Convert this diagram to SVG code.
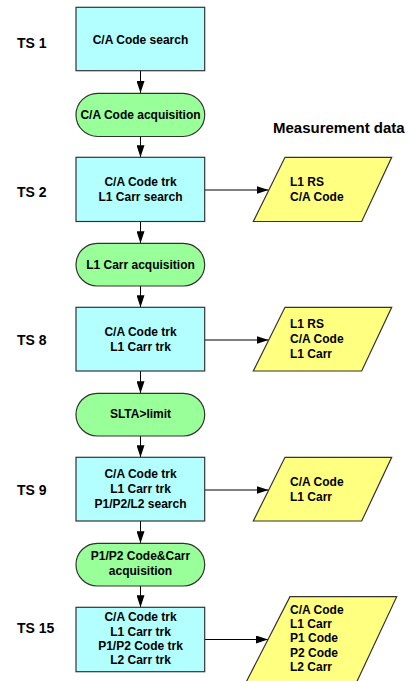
<svg xmlns="http://www.w3.org/2000/svg" width="407" height="681" viewBox="0 0 407 681">
<style>
text{font-family:"Liberation Sans",Arial,sans-serif;font-weight:bold;fill:#000}
.t{font-size:12px;text-anchor:middle}
.d{font-size:12px}
.ts{font-size:14px}
.box{fill:#b3ffff;stroke:#333;stroke-width:1.2}
.pill{fill:#99ff99;stroke:#333;stroke-width:1.2}
.data{fill:#ffff80;stroke:#333;stroke-width:1.2}
.c{stroke:#000;stroke-width:1;fill:none;marker-end:url(#ah)}
</style>
<defs>
<marker id="ah" markerUnits="userSpaceOnUse" markerWidth="12" markerHeight="8" refX="12" refY="4" orient="auto">
<path d="M0,0 L12,4 L0,8 z" fill="#000"/>
</marker>
</defs>
<rect width="407" height="681" fill="#fff"/>
<g id="labels">
<text class="ts" x="17" y="48">TS 1</text>
<text class="ts" x="17" y="197">TS 2</text>
<text class="ts" x="17" y="345">TS 8</text>
<text class="ts" x="17" y="495">TS 9</text>
<text class="ts" x="17" y="633">TS 15</text>
<text x="273" y="133" font-size="15">Measurement data</text>
</g>
<g id="connectors">
<line class="c" x1="140.5" y1="71" x2="140.5" y2="93"/>
<line class="c" x1="140.5" y1="136.5" x2="140.5" y2="157.3"/>
<line class="c" x1="140.5" y1="221.5" x2="140.5" y2="243.3"/>
<line class="c" x1="140.5" y1="286" x2="140.5" y2="307.3"/>
<line class="c" x1="140.5" y1="371" x2="140.5" y2="393.3"/>
<line class="c" x1="140.5" y1="436" x2="140.5" y2="457.3"/>
<line class="c" x1="140.5" y1="521" x2="140.5" y2="543.3"/>
<line class="c" x1="140.5" y1="586" x2="140.5" y2="607.3"/>
<line class="c" x1="205" y1="190" x2="268.5" y2="190"/>
<line class="c" x1="205" y1="340" x2="268.5" y2="340"/>
<line class="c" x1="205" y1="490" x2="268.5" y2="490"/>
<line class="c" x1="205" y1="639.5" x2="268" y2="639.5"/>
</g>
<g id="ts1">
<rect class="box" x="76" y="7.3" width="128.7" height="63.4"/>
<text class="t" x="140.5" y="44">C/A Code search</text>
</g>
<g id="acq1">
<rect class="pill" x="76" y="93.3" width="128.7" height="43.2" rx="21.6"/>
<text class="t" x="140.5" y="119">C/A Code acquisition</text>
</g>
<g id="ts2">
<rect class="box" x="76" y="157.3" width="128.7" height="64.2"/>
<text class="t" x="140.5" y="186">C/A Code trk</text>
<text class="t" x="140.5" y="200.7">L1 Carr search</text>
</g>
<g id="data2">
<polygon class="data" points="285,157.3 391.7,157.3 361.7,221.5 253.3,221.5"/>
<text class="d" x="290" y="186">L1 RS</text>
<text class="d" x="290" y="200.7">C/A Code</text>
</g>
<g id="acq2">
<rect class="pill" x="76" y="243.3" width="128.7" height="42.7" rx="21.3"/>
<text class="t" x="140.5" y="269.3">L1 Carr acquisition</text>
</g>
<g id="ts8">
<rect class="box" x="76" y="307.3" width="128.7" height="63.7"/>
<text class="t" x="140.5" y="336">C/A Code trk</text>
<text class="t" x="140.5" y="350.7">L1 Carr trk</text>
</g>
<g id="data8">
<polygon class="data" points="285,307.3 391.7,307.3 361.7,371 253.3,371"/>
<text class="d" x="290" y="327.7">L1 RS</text>
<text class="d" x="290" y="342.7">C/A Code</text>
<text class="d" x="290" y="357.7">L1 Carr</text>
</g>
<g id="slta">
<rect class="pill" x="76" y="393.3" width="128.7" height="42.7" rx="21.3"/>
<text class="t" x="140.5" y="418.3">SLTA&gt;limit</text>
</g>
<g id="ts9">
<rect class="box" x="76" y="457.3" width="128.7" height="63.7"/>
<text class="t" x="140.5" y="478.3">C/A Code trk</text>
<text class="t" x="140.5" y="493.3">L1 Carr trk</text>
<text class="t" x="140.5" y="507.7">P1/P2/L2 search</text>
</g>
<g id="data9">
<polygon class="data" points="285,457.3 391.7,457.3 361.7,521 253.3,521"/>
<text class="d" x="290" y="486">C/A Code</text>
<text class="d" x="290" y="501">L1 Carr</text>
</g>
<g id="acq3">
<rect class="pill" x="76" y="543.3" width="128.7" height="42.7" rx="21.3"/>
<text class="t" x="140.5" y="560">P1/P2 Code&amp;Carr</text>
<text class="t" x="140.5" y="575">acquisition</text>
</g>
<g id="ts15">
<rect class="box" x="76" y="607.3" width="128.7" height="64.4"/>
<text class="t" x="140.5" y="621">C/A Code trk</text>
<text class="t" x="140.5" y="635.7">L1 Carr trk</text>
<text class="t" x="140.5" y="650">P1/P2 Code trk</text>
<text class="t" x="140.5" y="664.3">L2 Carr trk</text>
</g>
<g id="data15">
<polygon class="data" points="290,596.7 396.7,596.7 356.7,682 246.2,682"/>
<text class="d" x="290" y="614">C/A Code</text>
<text class="d" x="290" y="627.7">L1 Carr</text>
<text class="d" x="290" y="642.3">P1 Code</text>
<text class="d" x="290" y="656.7">P2 Code</text>
<text class="d" x="290" y="671">L2 Carr</text>
</g>
</svg>
